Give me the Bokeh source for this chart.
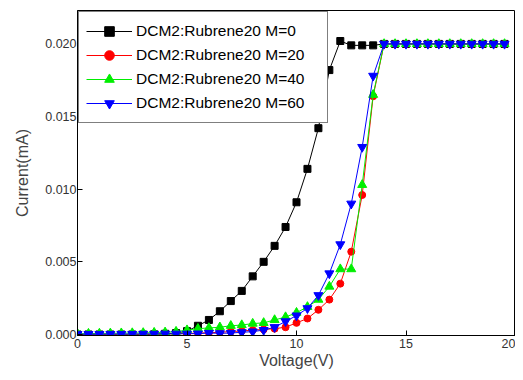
from bokeh.plotting import figure
from bokeh.models import Range1d, FixedTicker, PrintfTickFormatter, Legend, LegendItem
from bokeh.embed import file_html
from bokeh.resources import INLINE

voltage = [i * 0.5 for i in range(40)]

m0 = [0.0, 0.0, 0.0, 0.0, 0.0, 0.0, 0.0, 0.00001, 0.00005, 0.0001,
      0.00023, 0.0006, 0.0010, 0.0016, 0.0023, 0.0030, 0.0040, 0.0050, 0.0061, 0.0074,
      0.0091, 0.0114, 0.0142, 0.0182, 0.0202, 0.0199, 0.0199, 0.0199, 0.0200, 0.0200,
      0.0200, 0.0200, 0.0200, 0.0200, 0.0200, 0.0200, 0.0200, 0.0200, 0.0200, 0.0200]

m20 = [0.0, 0.0, 0.0, 0.0, 0.0, 0.0, 0.00001, 0.00002, 0.00003, 0.00005,
       0.00007, 0.0001, 0.00012, 0.00015, 0.0002, 0.00024, 0.0003, 0.00035, 0.0004, 0.0005,
       0.0008, 0.0011, 0.0017, 0.0024, 0.0035, 0.0057, 0.0096, 0.0164, 0.0200, 0.0200,
       0.0200, 0.0200, 0.0200, 0.0200, 0.0200, 0.0200, 0.0200, 0.0200, 0.0200, 0.0200]

m40 = [0.00005, 0.00006, 0.00007, 0.00008, 0.00009, 0.0001, 0.00011, 0.00013, 0.00015, 0.0002,
       0.0003, 0.0004, 0.00045, 0.0005, 0.0006, 0.00065, 0.00075, 0.0008, 0.0010, 0.0012,
       0.0015, 0.0019, 0.0024, 0.0033, 0.0045, 0.0045, 0.0103, 0.0165, 0.0200, 0.0200,
       0.0200, 0.0200, 0.0200, 0.0200, 0.0200, 0.0200, 0.0200, 0.0200, 0.0200, 0.0200]

m60 = [0.00002, 0.00002, 0.00002, 0.00003, 0.00003, 0.00003, 0.00004, 0.00004, 0.00005, 0.00005,
       0.00005, 0.00006, 0.0001, 0.00008, 0.0001, 0.00015, 0.0002, 0.0003, 0.0005, 0.0009,
       0.0013, 0.0018, 0.0027, 0.0042, 0.0062, 0.0090, 0.0129, 0.0178, 0.0200, 0.0200,
       0.0200, 0.0200, 0.0200, 0.0200, 0.0200, 0.0200, 0.0200, 0.0200, 0.0200, 0.0200]

labels = ["DCM2:Rubrene20 M=0", "DCM2:Rubrene20 M=20",
          "DCM2:Rubrene20 M=40", "DCM2:Rubrene20 M=60"]
x_ticks = [0, 5, 10, 15, 20]
y_ticks = [0.0, 0.005, 0.010, 0.015, 0.020]

p = figure(width=515, height=372, output_backend="svg", toolbar_location=None,
           x_range=Range1d(0, 20), y_range=Range1d(-0.00007, 0.0223),
           min_border_left=77, min_border_right=0, min_border_top=10, min_border_bottom=37)
p.xgrid.visible = False
p.ygrid.visible = False
p.outline_line_color = "black"
p.outline_line_width = 1
p.background_fill_color = "white"
p.border_fill_color = "white"

series = [
    (m0, "#000000", "square", 7),
    (m20, "#ff0000", "circle", 7),
    (m40, "#00ee00", "triangle", 9),
    (m60, "#0000ff", "inverted_triangle", 9),
]
items = []
for (vals, col, mk, sz), lab in zip(series, labels):
    r1 = p.line(voltage, vals, line_color=col, line_width=1)
    r2 = p.scatter(voltage, vals, marker=mk, size=sz, fill_color=col, line_color=col)
    items.append(LegendItem(label=lab, renderers=[r1, r2]))

legend = Legend(items=items, location="top_left", margin=1, padding=7, spacing=0,
                label_height=24, glyph_height=24, glyph_width=46, label_standoff=4,
                label_width=184, label_text_font="Liberation Sans",
                label_text_font_size="15.5px", label_text_color="black",
                border_line_color="black", border_line_width=1,
                background_fill_alpha=1.0)
p.add_layout(legend)

for ax in (p.xaxis[0], p.yaxis[0]):
    ax.major_tick_in = 5
    ax.major_tick_out = 0
    ax.minor_tick_in = 0
    ax.minor_tick_out = 0
    ax.axis_line_color = "black"
    ax.major_tick_line_color = "black"
    ax.major_label_text_font = "Liberation Sans"
    ax.major_label_text_font_size = "12.5px"
    ax.major_label_text_color = "#333333"
    ax.axis_label_text_font = "Liberation Sans"
    ax.axis_label_text_font_size = "16px"
    ax.axis_label_text_font_style = "normal"
    ax.axis_label_text_color = "#444444"

p.xaxis.ticker = FixedTicker(ticks=x_ticks)
p.yaxis.ticker = FixedTicker(ticks=y_ticks)
p.yaxis.formatter = PrintfTickFormatter(format="%.3f")
p.xaxis.formatter = PrintfTickFormatter(format="%d")
p.xaxis.axis_label = "Voltage(V)"
p.yaxis.axis_label = "Current(mA)"
p.xaxis.major_label_standoff = 3
p.xaxis.axis_label_standoff = 1
p.yaxis.major_label_standoff = 1
p.yaxis.axis_label_standoff = 11

open("out.html", "w").write(file_html(p, INLINE))
